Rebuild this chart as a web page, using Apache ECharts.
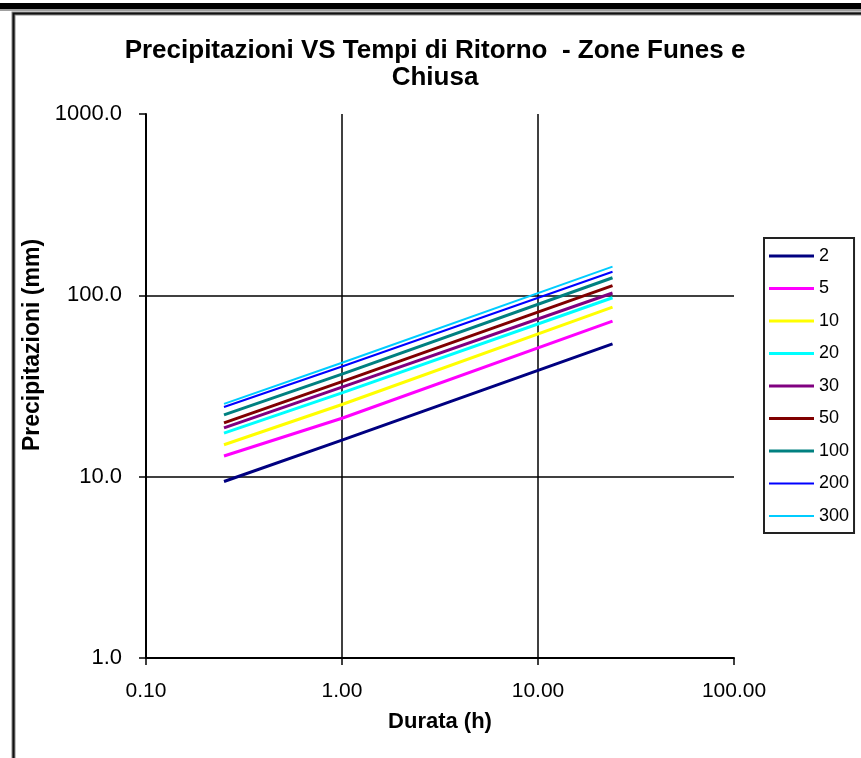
<!DOCTYPE html>
<html>
<head>
<meta charset="utf-8">
<title>Precipitazioni VS Tempi di Ritorno - Zone Funes e Chiusa</title>
<script src="https://cdn.jsdelivr.net/npm/echarts@6/dist/echarts.min.js"></script>
<style>
  html, body { margin: 0; padding: 0; background: #fff; }
  #chart { width: 861px; height: 758px; }
</style>
</head>
<body>
<div id="chart"></div>
<script>
// Durations (hours) at which the curves are given
const durations = [0.25, 1, 24];

// Return periods (years) shown in the legend
const returnPeriods = ['2', '5', '10', '20', '30', '50', '100', '200', '300'];

// Precipitation depth (mm) per return period, at each duration
const rain2   = [9.4, 15.9, 54];
const rain5   = [13.0, 21.0, 72];
const rain10  = [15.0, 25.0, 86];
const rain20  = [17.4, 29.0, 97];
const rain30  = [18.6, 31.2, 103];
const rain50  = [19.8, 33.4, 113];
const rain100 = [21.9, 36.8, 125];
const rain200 = [24.2, 40.5, 135];
const rain300 = [25.2, 42.5, 144];

const rainByPeriod = [rain2, rain5, rain10, rain20, rain30, rain50, rain100, rain200, rain300];

const colors = ['#000080', '#ff00ff', '#ffff00', '#00ffff', '#800080', '#800000', '#008080', '#0000ff', '#00ccff'];
const widths = [3, 3, 3, 3, 3, 3, 3, 2, 2];

const chart = echarts.init(document.getElementById('chart'), null, { renderer: 'canvas' });

const series = returnPeriods.map((name, i) => ({
  name: name,
  type: 'line',
  showSymbol: false,
  symbol: 'none',
  color: colors[i],
  lineStyle: { color: colors[i], width: widths[i] },
  data: durations.map((d, k) => [d, rainByPeriod[i][k]]),
  z: 3
}));

const legendData = returnPeriods.map((name, i) => (
  widths[i] < 3 ? { name: name, icon: 'path://M0,0H45V2H0Z' } : { name: name }
));

const labelFont = 'Liberation Sans, Arial, sans-serif';

chart.setOption({
  animation: false,
  backgroundColor: '#fff',
  title: {
    text: 'Precipitazioni VS Tempi di Ritorno  - Zone Funes e\nChiusa',
    left: 430,
    top: 32,
    textAlign: 'center',
    textStyle: {
      fontFamily: labelFont,
      fontWeight: 'bold',
      fontSize: 26,
      lineHeight: 27,
      color: '#000'
    }
  },
  legend: {
    orient: 'vertical',
    left: 764,
    top: 238,
    data: legendData,
    icon: 'rect',
    itemWidth: 45,
    itemHeight: 3,
    itemGap: 14.5,
    padding: [9, 5, 8, 5],
    borderColor: '#222',
    borderWidth: 2,
    textStyle: { fontFamily: labelFont, fontSize: 18, color: '#000', lineHeight: 18 }
  },
  grid: { left: 146, right: 127, top: 114, bottom: 100, containLabel: false },
  xAxis: {
    type: 'log',
    logBase: 10,
    min: 0.1,
    max: 100,
    name: 'Durata (h)',
    nameLocation: 'middle',
    nameGap: 53,
    nameTextStyle: { fontFamily: labelFont, fontWeight: 'bold', fontSize: 22, color: '#000' },
    axisLine: { show: true, lineStyle: { color: '#000', width: 2 } },
    axisTick: { show: true, length: 7, lineStyle: { color: '#000', width: 1.5 } },
    minorTick: { show: false },
    axisLabel: {
      fontFamily: labelFont, fontSize: 21, color: '#000', margin: 23,
      formatter: v => Number(v).toFixed(2)
    },
    splitLine: { show: true, showMinLine: false, showMaxLine: false, lineStyle: { color: '#000', width: 1.5 } }
  },
  yAxis: {
    type: 'log',
    logBase: 10,
    min: 1,
    max: 1000,
    name: 'Precipitazioni (mm)',
    nameLocation: 'middle',
    nameRotate: 90,
    nameGap: 92,
    nameTextStyle: {
      fontFamily: labelFont, fontWeight: 'bold', fontSize: 23, color: '#000',
      padding: [0, 0, 0, 82]
    },
    axisLine: { show: true, lineStyle: { color: '#000', width: 2 } },
    axisTick: { show: true, length: 7, lineStyle: { color: '#000', width: 1.5 } },
    axisLabel: {
      fontFamily: labelFont, fontSize: 22, color: '#000', margin: 24,
      formatter: v => Number(v).toFixed(1)
    },
    splitLine: { show: true, showMinLine: false, showMaxLine: false, lineStyle: { color: '#000', width: 1.5 } }
  },
  graphic: [
    // heavy rule across the top of the page
    { type: 'rect', silent: true, shape: { x: 0, y: 3, width: 861, height: 6 }, style: { fill: '#000' } },
    { type: 'rect', silent: true, shape: { x: 0, y: 9, width: 861, height: 2 }, style: { fill: '#a0a0a0' } },
    // chart frame (left and top edges)
    { type: 'rect', silent: true, shape: { x: 13.5, y: 13.5, width: 900, height: 800 }, style: { fill: null, stroke: '#888', lineWidth: 4 } },
    { type: 'rect', silent: true, shape: { x: 13.5, y: 13.5, width: 900, height: 800 }, style: { fill: null, stroke: '#111', lineWidth: 2 } }
  ],
  series: series
});
</script>
</body>
</html>
